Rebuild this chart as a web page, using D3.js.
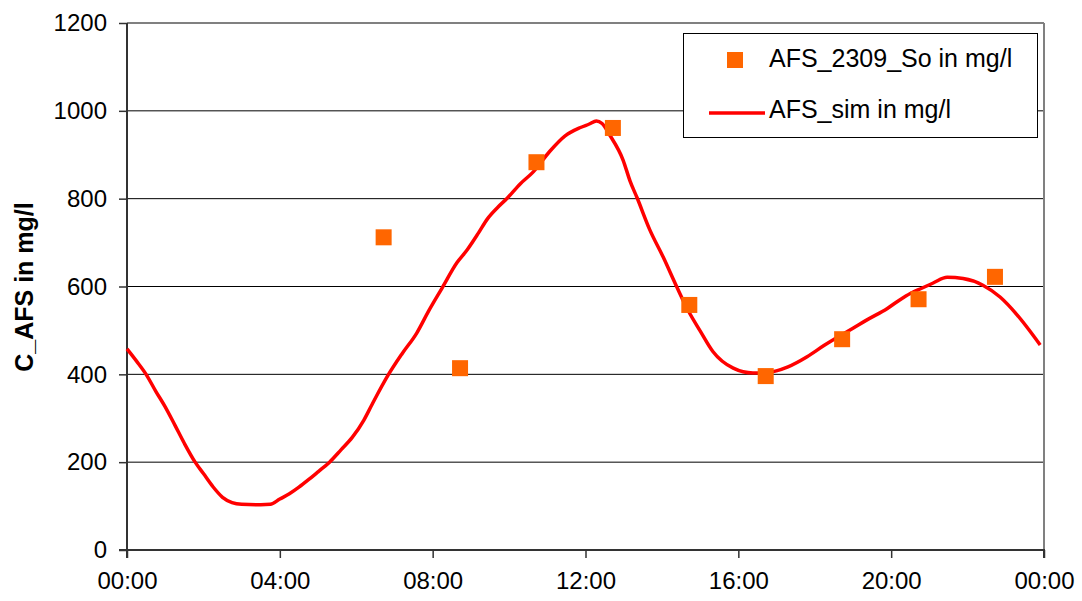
<!DOCTYPE html>
<html>
<head>
<meta charset="utf-8">
<script src="https://cdn.jsdelivr.net/npm/d3@7"></script>
<style>
  html, body { margin: 0; padding: 0; background: #fff; }
  svg { display: block; font-family: "Liberation Sans", Arial, sans-serif; }
</style>
</head>
<body>
<svg id="chart" width="1082" height="601"></svg>
<script>
// Measured suspended solids (AFS) at the sampling point, mg/l
const obsTimes  = ["06:43", "08:43", "10:43", "12:43", "14:43", "16:43", "18:43", "20:43", "22:43"];
const obsValues = [712, 414, 883, 961, 558, 396, 480, 571, 622];

// Simulated AFS concentration over the day, mg/l
const simTimes = ["00:00", "00:15", "00:30", "00:45", "01:00", "01:15", "01:30", "01:47", "02:00", "02:15",
                  "02:30", "02:45", "03:00", "03:30", "03:45", "04:00", "04:15", "04:30", "04:45", "05:00",
                  "05:18", "05:36", "05:54", "06:12", "06:25", "06:50", "07:12", "07:35", "07:54", "08:15",
                  "08:38", "08:54", "09:12", "09:26", "09:42", "09:57", "10:17", "10:38", "11:04", "11:28",
                  "11:52", "12:06", "12:17", "12:26", "12:38", "12:59", "13:10", "13:21", "13:41", "14:02",
                  "14:24", "14:41", "15:00", "15:20", "15:52", "16:23", "16:45", "17:18", "17:48", "18:15",
                  "18:40", "19:00", "19:22", "19:54", "20:14", "20:30", "20:48", "21:06", "21:28", "21:53",
                  "22:24", "22:51", "23:18", "23:54"];
const simValues = [458, 430, 400, 362, 326, 285, 243, 200, 174, 144,
                   120, 108, 104, 103, 104, 116, 128, 143, 160, 178,
                   200, 228, 257, 296, 332, 398, 447, 494, 545, 597,
                   654, 683, 722, 754, 780, 801, 833, 861, 908, 943,
                   962, 970, 977, 971, 945, 888, 840, 802, 729, 667,
                   597, 546, 499, 452, 414, 403, 404, 417, 440, 466,
                   488, 505, 524, 550, 570, 584, 596, 608, 621, 618,
                   603, 576, 535, 467];

const xTicks = [0, 240, 480, 720, 960, 1200, 1440];   // minutes
const yTicks = [0, 200, 400, 600, 800, 1000, 1200];

const yTitle = "C_AFS in mg/l";
const obsName = "AFS_2309_So in mg/l";
const simName = "AFS_sim in mg/l";

const toMin = s => { const [h, m] = s.split(":").map(Number); return h * 60 + m; };
const fmtTime = m => {
  const mm = m % 1440;
  return String(Math.floor(mm / 60)).padStart(2, "0") + ":" + String(mm % 60).padStart(2, "0");
};

const obs = obsTimes.map((t, i) => ({ t: toMin(t), v: obsValues[i] }));
const sim = simTimes.map((t, i) => ({ t: toMin(t), v: simValues[i] }));

const svg = d3.select("#chart");
const plotL = 127, plotR = 1044, plotT = 23, plotB = 550;

const x = d3.scaleLinear().domain([0, 1440]).range([plotL, plotR]);
const y = d3.scaleLinear().domain([0, 1200]).range([plotB, plotT]);

// horizontal grid lines
svg.append("g").selectAll("line")
  .data(yTicks.filter(d => d > 0))
  .join("line")
  .attr("x1", plotL).attr("x2", plotR)
  .attr("y1", d => y(d)).attr("y2", d => y(d))
  .attr("stroke", d => d === 1200 ? "#808080" : "#000")
  .attr("stroke-width", d => d === 1200 ? 2 : 1);

// right frame of the plot area
svg.append("line")
  .attr("x1", plotR).attr("x2", plotR).attr("y1", plotT).attr("y2", plotB)
  .attr("stroke", "#808080").attr("stroke-width", 2);

// y axis
const yAxis = svg.append("g").attr("transform", `translate(${plotL},0)`)
  .call(d3.axisLeft(y).tickValues(yTicks).tickFormat(d3.format("d")).tickSize(8).tickPadding(12));
// x axis
const xAxis = svg.append("g").attr("transform", `translate(0,${plotB})`)
  .call(d3.axisBottom(x).tickValues(xTicks).tickFormat(fmtTime).tickSize(8).tickPadding(14));

[yAxis, xAxis].forEach(g => {
  g.select(".domain").attr("stroke", "#333").attr("stroke-width", 2);
  g.selectAll(".tick line").attr("stroke", "#333").attr("stroke-width", 1.5);
  g.selectAll(".tick text").attr("fill", "#000").attr("font-size", 24)
    .attr("font-family", "'Liberation Sans', Arial, sans-serif");
});
yAxis.select(".domain").attr("d", `M-8,${plotB}H0V${plotT}`);
xAxis.select(".domain").attr("d", `M${plotL},8V0H${plotR}V8`);
xAxis.selectAll(".tick text").attr("dy", "0.71em");

// y axis title
svg.append("text")
  .attr("transform", `translate(33,287) rotate(-90)`)
  .attr("text-anchor", "middle")
  .attr("font-size", 25).attr("font-weight", "bold")
  .text(yTitle);

// simulated curve
svg.append("path")
  .datum(sim)
  .attr("fill", "none")
  .attr("stroke", "#ff0000")
  .attr("stroke-width", 3.5)
  .attr("stroke-linejoin", "round")
  .attr("d", d3.line().x(d => x(d.t)).y(d => y(d.v)).curve(d3.curveMonotoneX));

// observed samples
const sq = 16;
svg.append("g").selectAll("rect")
  .data(obs)
  .join("rect")
  .attr("x", d => x(d.t) - sq / 2)
  .attr("y", d => y(d.v) - sq / 2)
  .attr("width", sq).attr("height", sq)
  .attr("fill", "#ff6600");

// legend
const lg = svg.append("g");
lg.append("rect")
  .attr("x", 683.5).attr("y", 33.5).attr("width", 354).attr("height", 104)
  .attr("fill", "#fff").attr("stroke", "#000").attr("stroke-width", 1);
lg.append("rect")
  .attr("x", 727).attr("y", 52).attr("width", sq).attr("height", sq)
  .attr("fill", "#ff6600");
lg.append("text").attr("x", 769).attr("y", 67).attr("font-size", 25).text(obsName);
lg.append("line")
  .attr("x1", 709).attr("x2", 765).attr("y1", 113).attr("y2", 113)
  .attr("stroke", "#ff0000").attr("stroke-width", 3.5);
lg.append("text").attr("x", 769).attr("y", 118).attr("font-size", 25).text(simName);
</script>
</body>
</html>
